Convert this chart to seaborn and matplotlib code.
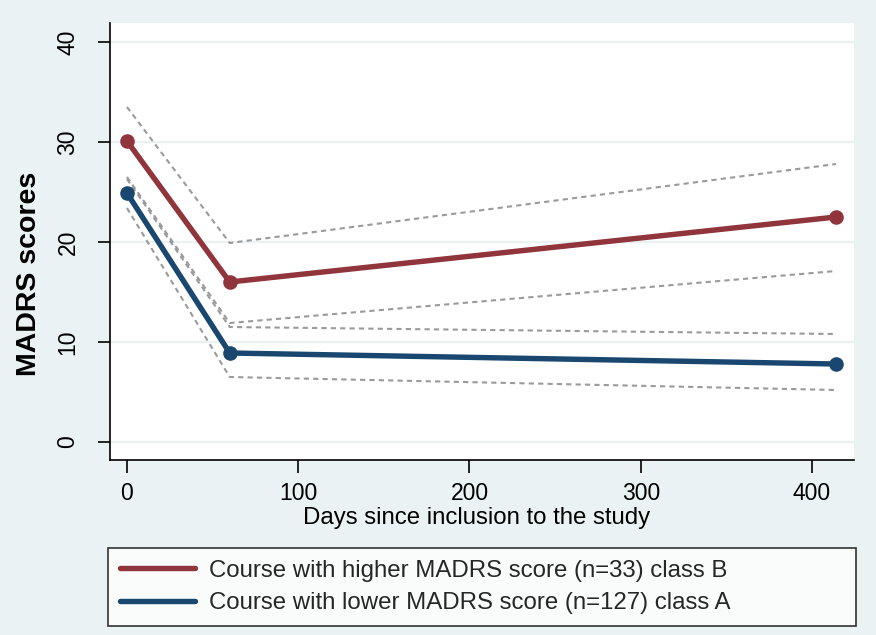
"""
MADRS score course over time for the two latent classes, with dashed CI bands.
"""
import numpy as np
import pandas as pd
import matplotlib
matplotlib.use("Agg")
import matplotlib.pyplot as plt
from matplotlib.lines import Line2D
import seaborn as sns

sns.set_theme(style="white")
plt.rcParams["font.family"] = ["Liberation Sans", "DejaVu Sans"]

# data
days = [0, 60, 414]
class_b = [30.1, 16.0, 22.5]
class_a = [24.9, 8.9, 7.8]
b_upper = [33.5, 19.9, 27.8]
b_lower = [26.5, 11.9, 17.1]
a_upper = [26.3, 11.5, 10.8]
a_lower = [23.4, 6.5, 5.2]
labels = ["Course with higher MADRS score (n=33) class B",
          "Course with lower MADRS score (n=127) class A"]
y_ticks = [0, 10, 20, 30, 40]
x_ticks = [0, 100, 200, 300, 400]

BG = "#EAF2F3"
RED = "#90353B"
BLUE = "#1A476F"
GREY = "#9A9A9A"

W, H = 876, 635
fig = plt.figure(figsize=(W / 100, H / 100), dpi=100, facecolor=BG)
ax = fig.add_axes([110 / W, 1 - 460 / H, (854 - 110) / W, (460 - 23) / H])
ax.set_facecolor("white")

# confidence bounds (dashed grey)
for vals in [b_upper, b_lower, a_upper, a_lower]:
    d = pd.DataFrame({"day": days, "score": vals})
    sns.lineplot(data=d, x="day", y="score", ax=ax, color=GREY, lw=1.5,
                 linestyle=(0, (2.5, 2)), zorder=2)

# class trajectories
for vals, col in [(class_b, RED), (class_a, BLUE)]:
    d = pd.DataFrame({"day": days, "score": vals})
    sns.lineplot(data=d, x="day", y="score", ax=ax, color=col, lw=3.9,
                 marker="o", markersize=10.5, markeredgewidth=0, zorder=3)

ax.set_xlim(-9.9, 424.5)
ax.set_ylim(-1.8, 41.9)
ax.set_xticks(x_ticks)
ax.set_yticks(y_ticks)
ax.yaxis.grid(True, color=BG, lw=1.6)
ax.set_axisbelow(True)

for s in ["top", "right"]:
    ax.spines[s].set_visible(False)
for s in ["left", "bottom"]:
    ax.spines[s].set_color("black")
    ax.spines[s].set_linewidth(1.2)

ax.tick_params(axis="both", direction="out", length=9, width=1.2, color="black",
               labelsize=16.5, labelcolor="black", left=True, bottom=True)
ax.tick_params(axis="y", pad=13)
ax.tick_params(axis="x", pad=7)
plt.setp(ax.get_yticklabels(), rotation=90, va="center")

ax.set_xlabel("Days since inclusion to the study", fontsize=17.3, color="black")
ax.xaxis.set_label_coords((477 - 110) / 744, (460 - 507) / 437)
ax.set_ylabel("MADRS scores", fontsize=20.5, fontweight="bold", color="black")
ax.yaxis.set_label_coords((42 - 110) / 744, (460 - 274) / 437)

handles = [Line2D([], [], color=RED, lw=3.9), Line2D([], [], color=BLUE, lw=3.9)]
leg = fig.legend(handles, labels, loc="center left",
                 bbox_to_anchor=(108 / W, 1 - 627 / H, 748 / W, 80 / H),
                 mode="expand", fontsize=17.3, frameon=True, fancybox=False,
                 borderaxespad=0, handlelength=3.1, handletextpad=0.62,
                 labelspacing=0.45, borderpad=0.5)
leg.get_frame().set_edgecolor("black")
leg.get_frame().set_linewidth(1.2)
leg.get_frame().set_facecolor("white")

fig.savefig("out.png", dpi=100, facecolor=BG)
